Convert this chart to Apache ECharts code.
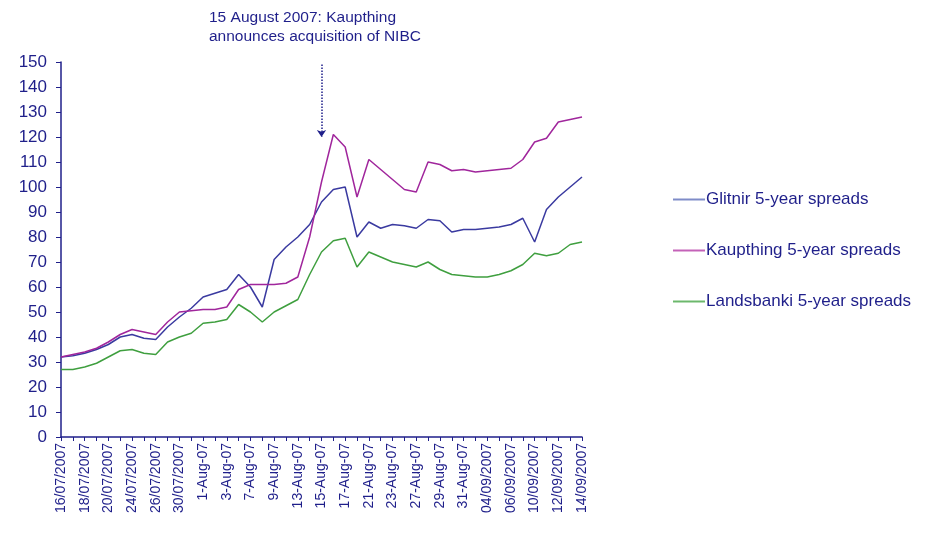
<!DOCTYPE html>
<html>
<head>
<meta charset="utf-8">
<script src="https://cdn.jsdelivr.net/npm/echarts@6/dist/echarts.min.js"></script>
<style>
  html, body { margin: 0; padding: 0; background: #fff; }
  #main { width: 952px; height: 536px; }
</style>
</head>
<body>
<div id="main"></div>
<script>
// trading days 16 Jul - 14 Sep 2007
const dates = [
  '16/07/2007','17/07/2007','18/07/2007','19/07/2007','20/07/2007',
  '23/07/2007','24/07/2007','25/07/2007','26/07/2007','27/07/2007',
  '30/07/2007','31/07/2007','1-Aug-07','2-Aug-07','3-Aug-07',
  '6-Aug-07','7-Aug-07','8-Aug-07','9-Aug-07','10-Aug-07',
  '13-Aug-07','14-Aug-07','15-Aug-07','16-Aug-07','17-Aug-07',
  '20-Aug-07','21-Aug-07','22-Aug-07','23-Aug-07','24-Aug-07',
  '27-Aug-07','28-Aug-07','29-Aug-07','30-Aug-07','31-Aug-07',
  '03/09/2007','04/09/2007','05/09/2007','06/09/2007','07/09/2007',
  '10/09/2007','11/09/2007','12/09/2007','13/09/2007','14/09/2007'
];
const glitnir = [
  32, 32.5, 33.5, 35, 37, 40, 41, 39.5, 39, 44,
  48, 51.5, 56, 57.5, 59, 65, 60, 52, 71, 76,
  80, 85, 94, 99, 100, 80, 86, 83.5, 85, 84.5,
  83.5, 87, 86.5, 82, 83, 83, 83.5, 84, 85, 87.5,
  78, 91, 96, 100, 104
];
const kaupthing = [
  32, 33, 34, 35.5, 38, 41, 43, 42, 41, 46,
  50, 50.5, 51, 51, 52, 59, 61, 61, 61, 61.5,
  64, 80, 102, 121, 116, 96, 111, 107, 103, 99,
  98, 110, 109, 106.5, 107, 106, 106.5, 107, 107.5, 111,
  118, 119.5, 126, 127, 128
];
const landsbanki = [
  27, 27, 28, 29.5, 32, 34.5, 35, 33.5, 33, 38,
  40, 41.5, 45.5, 46, 47, 53, 50, 46, 50, 52.5,
  55, 65, 74, 78.5, 79.5, 68, 74, 72, 70, 69,
  68, 70, 67, 65, 64.5, 64, 64, 65, 66.5, 69,
  73.5, 72.5, 73.5, 77, 78
];
const seriesNames = ['Glitnir 5-year spreads', 'Kaupthing 5-year spreads', 'Landsbanki 5-year spreads'];
const noteDate = '15-Aug-07';

const navy = '#1f1f8a';
const chart = echarts.init(document.getElementById('main'));
const option = {
  backgroundColor: '#fff',
  animation: false,
  textStyle: { fontFamily: 'Liberation Sans, Arial, sans-serif' },
  graphic: [{
    type: 'text',
    left: 209,
    top: 8,
    style: {
      text: '15 August 2007: Kaupthing\nannounces acquisition of NIBC',
      fill: navy,
      font: '15.5px Liberation Sans, Arial, sans-serif',
      lineHeight: 19
    }
  }],
  legend: {
    orient: 'vertical',
    left: 668,
    top: 186,
    itemGap: 34,
    itemWidth: 32,
    itemHeight: 2,
    icon: 'rect',
    textStyle: { color: navy, fontSize: 17, padding: [0, 0, 0, -4] },
    data: seriesNames
  },
  grid: { left: 61, right: 370, top: 62, bottom: 99 },
  xAxis: {
    type: 'category',
    data: dates,
    boundaryGap: false,
    axisLine: { lineStyle: { color: navy, width: 1.5 } },
    axisTick: { show: true, interval: 0, length: 4, lineStyle: { color: navy } },
    axisLabel: { interval: 1, rotate: 90, color: navy, fontSize: 14, margin: 6 }
  },
  yAxis: {
    type: 'value',
    min: 0,
    max: 150,
    interval: 10,
    splitLine: { show: false },
    axisLine: { show: true, lineStyle: { color: navy, width: 1.5 } },
    axisTick: { show: true, length: 5, lineStyle: { color: navy } },
    axisLabel: { color: navy, fontSize: 17, margin: 14 }
  },
  series: [
    {
      name: seriesNames[0], type: 'line', data: glitnir, symbol: 'none',
      lineStyle: { color: '#3a3aa0', width: 1.5 }, itemStyle: { color: '#7f8cc8' }
    },
    {
      name: seriesNames[1], type: 'line', data: kaupthing, symbol: 'none',
      lineStyle: { color: '#a0269c', width: 1.5 }, itemStyle: { color: '#c462b8' },
      markLine: {
        silent: true,
        symbol: ['none', 'arrow'],
        symbolSize: 7,
        label: { show: false },
        lineStyle: { color: navy, type: 'dotted', width: 1.5 },
        data: [[{ coord: [noteDate, 149] }, { coord: [noteDate, 120] }]]
      }
    },
    {
      name: seriesNames[2], type: 'line', data: landsbanki, symbol: 'none',
      lineStyle: { color: '#3f9f3f', width: 1.5 }, itemStyle: { color: '#6cb86c' }
    }
  ]
};
chart.setOption(option);
</script>
</body>
</html>
